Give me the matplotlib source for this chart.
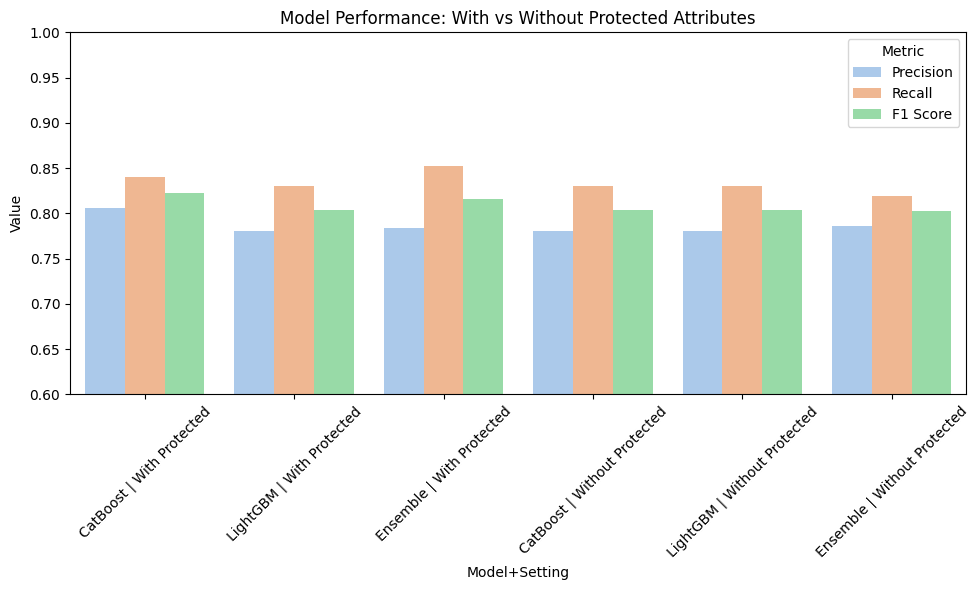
import numpy as np
import pandas as pd
import matplotlib.pyplot as plt
import seaborn as sns

# Data
settings = ["CatBoost | With Protected", "LightGBM | With Protected", "Ensemble | With Protected",
            "CatBoost | Without Protected", "LightGBM | Without Protected", "Ensemble | Without Protected"]
precision = [0.806, 0.781, 0.784, 0.781, 0.781, 0.786]
recall = [0.840, 0.830, 0.852, 0.830, 0.830, 0.819]
f1 = [0.823, 0.804, 0.816, 0.804, 0.804, 0.803]
metrics = ["Precision", "Recall", "F1 Score"]

rows = []
for name, vals in zip(metrics, [precision, recall, f1]):
    for s, v in zip(settings, vals):
        rows.append({"Model+Setting": s, "Metric": name, "Value": v})
df = pd.DataFrame(rows)

fig, ax = plt.subplots(figsize=(10, 6), dpi=100)
sns.barplot(data=df, x="Model+Setting", y="Value", hue="Metric", palette="pastel", ax=ax)
ax.set_ylim(0.6, 1.0)
ax.set_title("Model Performance: With vs Without Protected Attributes")
plt.xticks(rotation=45)
ax.legend(title="Metric", loc="upper right")
plt.tight_layout()
plt.savefig("out.png", bbox_inches="tight")
